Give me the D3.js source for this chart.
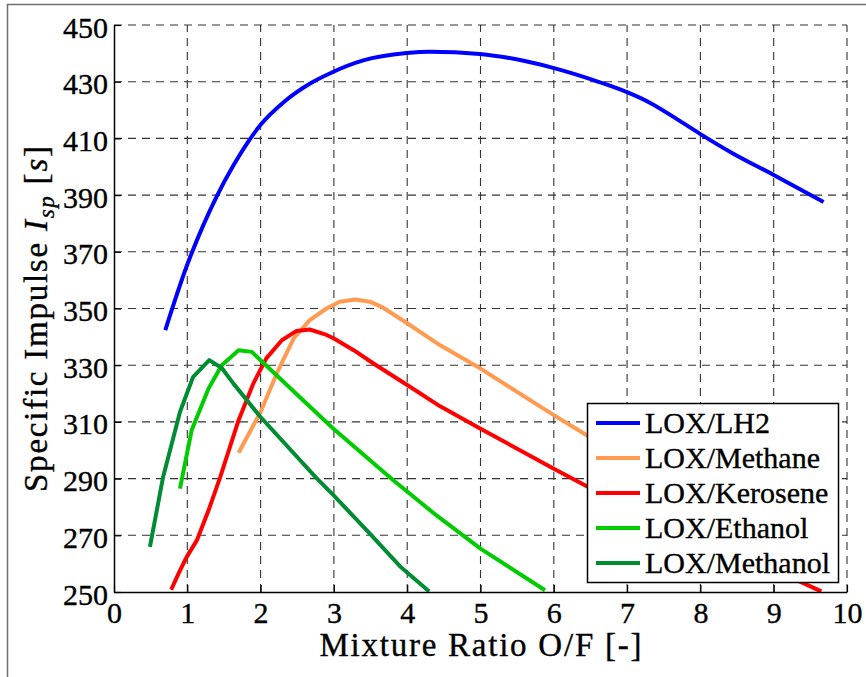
<!DOCTYPE html>
<html>
<head>
<meta charset="utf-8">
<script src="https://cdn.jsdelivr.net/npm/d3@7"></script>
<style>
  body { margin: 0; background: #fff; }
  svg { display: block; }
  text { font-family: "Liberation Serif", "Times New Roman", Times, serif; fill: #000; stroke: #000; stroke-width: 0.35px; }
</style>
</head>
<body>
<svg id="chart" width="866" height="677"></svg>
<script>
// Axis ticks
const xTicks = [0, 1, 2, 3, 4, 5, 6, 7, 8, 9, 10];
const yTicks = [250, 270, 290, 310, 330, 350, 370, 390, 410, 430, 450];

// Propellant combinations
const seriesNames = ["LOX/LH2", "LOX/Methane", "LOX/Kerosene", "LOX/Ethanol", "LOX/Methanol"];
const seriesColors = ["#0000ff", "#ff9a50", "#ff0000", "#00cc00", "#008c33"];

// Specific impulse [s] versus mixture ratio O/F
const lh2X = [0.70, 1.00, 1.22, 1.40, 1.63, 1.83, 2.00, 2.31, 2.67, 2.95, 3.40, 3.99, 4.31, 4.99, 5.49, 5.99, 6.63, 6.99, 7.31, 7.68, 7.99, 8.45, 9.00, 9.68];
const lh2Y = [342.4, 365.5, 379.5, 389.5, 400.5, 408.8, 414.8, 422.7, 429.3, 433.0, 437.5, 440.1, 440.6, 439.8, 437.9, 434.9, 429.8, 426.4, 422.6, 416.8, 411.7, 404.6, 397.1, 387.6];

const methaneX = [1.70, 2.00, 2.22, 2.45, 2.67, 2.90, 3.08, 3.29, 3.49, 3.65, 4.00, 4.45, 5.00, 6.00, 6.45, 7.00];
const methaneY = [299.1, 313.5, 327.1, 339.4, 345.9, 350.0, 352.4, 353.2, 352.4, 350.6, 344.8, 337.0, 328.8, 312.4, 305.3, 297.0];

const keroseneX = [0.78, 0.88, 0.99, 1.13, 1.29, 1.45, 1.70, 1.90, 2.08, 2.29, 2.49, 2.67, 2.88, 3.00, 3.27, 3.54, 4.00, 4.45, 5.00, 6.00, 6.45, 7.00, 8.00, 9.00, 9.27, 9.65];
const keroseneY = [250.8, 256.5, 262.3, 268.2, 278.8, 290.6, 310.6, 323.5, 332.5, 338.8, 342.1, 342.6, 340.9, 339.4, 335.3, 330.6, 323.0, 315.5, 307.6, 293.5, 287.3, 281.0, 269.0, 258.0, 254.7, 250.2];

const ethanolX = [0.90, 1.06, 1.29, 1.47, 1.70, 1.88, 2.50, 2.99, 3.81, 4.40, 5.00, 5.88];
const ethanolY = [286.5, 307.1, 321.8, 330.0, 335.3, 334.7, 319.6, 307.7, 289.4, 277.0, 265.3, 250.6];

const methanolX = [0.49, 0.67, 0.90, 1.08, 1.30, 1.47, 1.63, 1.99, 2.75, 3.00, 3.50, 3.90, 4.30];
const methanolY = [265.9, 290.6, 313.5, 325.9, 331.8, 329.0, 323.5, 312.0, 290.5, 284.0, 270.3, 259.1, 250.2];

const seriesX = [lh2X, methaneX, keroseneX, ethanolX, methanolX];
const seriesY = [lh2Y, methaneY, keroseneY, ethanolY, methanolY];

const svg = d3.select("#chart");

// Figure frame
svg.append("path")
  .attr("d", "M7.5,677 V4.5 H866")
  .attr("fill", "none")
  .attr("stroke", "#707070")
  .attr("stroke-width", 1.5);

const plotLeft = 114, plotRight = 847, plotTop = 25, plotBottom = 592;
const x = d3.scaleLinear().domain([0, 10]).range([plotLeft, plotRight]);
const y = d3.scaleLinear().domain([250, 450]).range([plotBottom, plotTop]);

// Dashed grid
const grid = svg.append("g")
  .attr("stroke", "#333")
  .attr("stroke-width", 1.1)
  .attr("stroke-dasharray", "8,6")
  .attr("fill", "none");
grid.selectAll("line.v").data(xTicks.slice(1)).join("line")
  .attr("class", "v")
  .attr("x1", d => x(d)).attr("x2", d => x(d))
  .attr("y1", plotBottom).attr("y2", plotTop);
grid.selectAll("line.h").data(yTicks.slice(1)).join("line")
  .attr("class", "h")
  .attr("x1", plotLeft).attr("x2", plotRight)
  .attr("y1", d => y(d)).attr("y2", d => y(d));

// Curves, clipped to the plot area
svg.append("clipPath").attr("id", "plot-clip")
  .append("rect")
  .attr("x", plotLeft).attr("y", plotTop)
  .attr("width", plotRight - plotLeft).attr("height", plotBottom - plotTop);

const line = d3.line()
  .x(d => x(d[0]))
  .y(d => y(d[1]));

const curves = svg.append("g").attr("clip-path", "url(#plot-clip)");
seriesNames.forEach((name, i) => {
  const pts = seriesX[i].map((v, k) => [v, seriesY[i][k]]);
  curves.append("path")
    .datum(pts)
    .attr("fill", "none")
    .attr("stroke", seriesColors[i])
    .attr("stroke-width", 4)
    .attr("stroke-linejoin", "round")
    .attr("d", i === 0 ? line.curve(d3.curveMonotoneX)(pts) : line.curve(d3.curveLinear)(pts));
});

// Axes
const xAxis = d3.axisBottom(x).tickValues(xTicks).tickSizeInner(-7).tickSizeOuter(0).tickPadding(0).tickFormat(d3.format("d"));
const yAxis = d3.axisLeft(y).tickValues(yTicks).tickSizeInner(-7).tickSizeOuter(0).tickPadding(0).tickFormat(d3.format("d"));

const gx = svg.append("g").attr("transform", `translate(0,${plotBottom})`).call(xAxis);
const gy = svg.append("g").attr("transform", `translate(${plotLeft},0)`).call(yAxis);

[gx, gy].forEach(g => {
  g.select(".domain").attr("stroke", "#000").attr("stroke-width", 1.5);
  g.selectAll(".tick line").attr("stroke", "#000").attr("stroke-width", 1.2);
  g.selectAll(".tick text")
    .style("font-family", '"Liberation Serif", "Times New Roman", serif')
    .style("font-size", "30px")
    .attr("fill", "#000");
});
gx.selectAll(".tick text").attr("y", 31).attr("dy", 0);
gy.selectAll(".tick text").attr("x", -6).attr("dy", 12);

// Axis titles
svg.append("text")
  .attr("x", (plotLeft + plotRight) / 2)
  .attr("y", 656)
  .attr("text-anchor", "middle")
  .attr("font-size", 33)
  .attr("textLength", 322)
  .attr("lengthAdjust", "spacing")
  .text("Mixture Ratio O/F [-]");

const yt = svg.append("text")
  .attr("transform", "translate(47,319) rotate(-90)")
  .attr("text-anchor", "middle")
  .attr("font-size", 33)
  .attr("textLength", 346)
  .attr("lengthAdjust", "spacing");
yt.append("tspan").text("Specific Impulse ");
yt.append("tspan").attr("font-style", "italic").text("I");
yt.append("tspan").attr("font-style", "italic").attr("font-size", 23).attr("dy", 7).text("sp");
yt.append("tspan").attr("dy", -7).text(" [");
yt.append("tspan").attr("font-style", "italic").text("s");
yt.append("tspan").text("]");

// Legend
const lg = svg.append("g");
lg.append("rect")
  .attr("x", 587.5).attr("y", 403.5)
  .attr("width", 251).attr("height", 179)
  .attr("fill", "#fff")
  .attr("stroke", "#000")
  .attr("stroke-width", 1.5);
const rowY = d3.scalePoint().domain(seriesNames).range([423, 563]);
seriesNames.forEach((name, i) => {
  const cy = rowY(name);
  lg.append("line")
    .attr("x1", 596).attr("x2", 640)
    .attr("y1", cy).attr("y2", cy)
    .attr("stroke", seriesColors[i])
    .attr("stroke-width", 4);
  lg.append("text")
    .attr("x", 645).attr("y", cy + 10)
    .attr("font-size", 30)
    .text(name);
});
</script>
</body>
</html>
